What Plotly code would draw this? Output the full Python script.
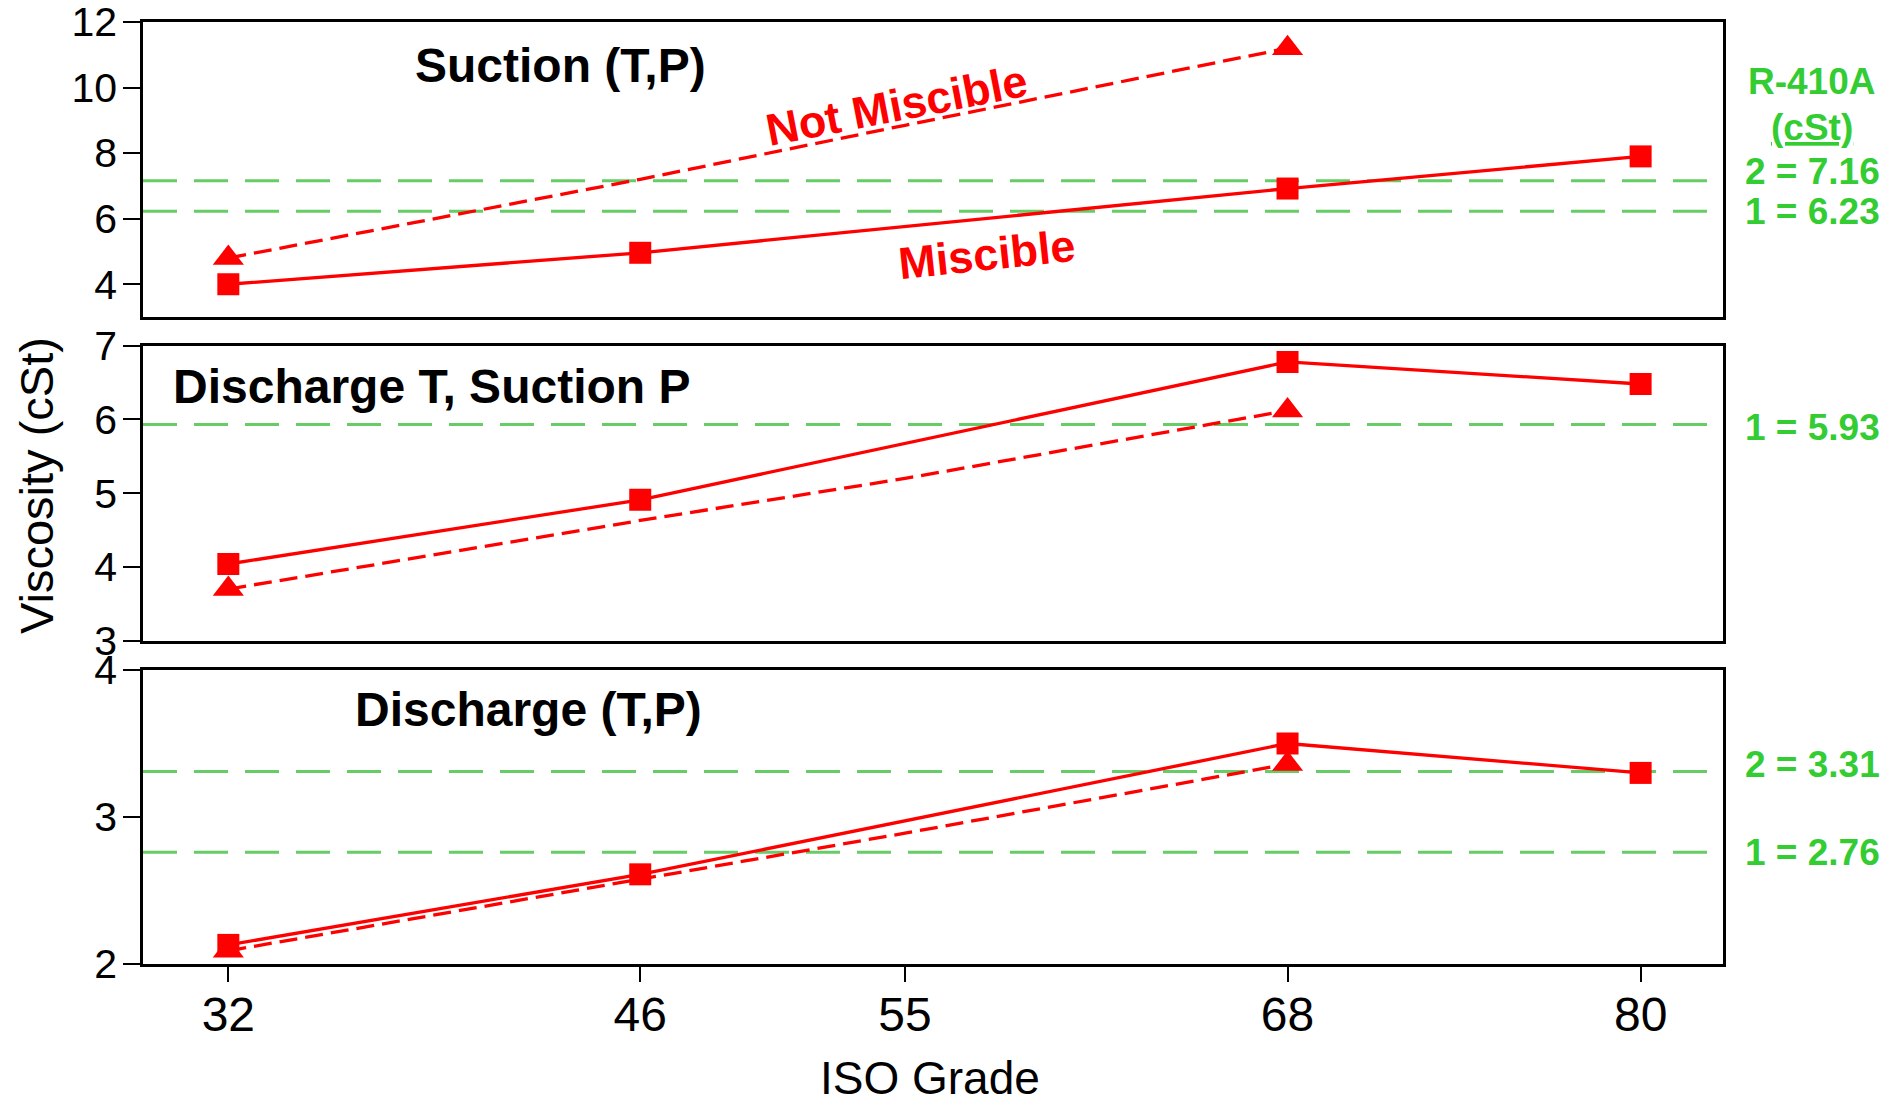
import plotly.graph_objects as go

# ---------------- data ----------------
iso_grades = [32, 46, 55, 68, 80]
x_misc = [32, 46, 68, 80]
x_notmisc = [32, 46, 55, 68]

# Panel 1: Suction (T,P)
suc_misc = [4.0, 4.96, 6.92, 7.9]
suc_notmisc = [4.8, 7.2, 8.85, 11.2]
suc_ref = [7.16, 6.23]

# Panel 2: Discharge T, Suction P
dtsp_misc = [4.04, 4.91, 6.78, 6.48]
dtsp_notmisc = [3.7, 4.63, 5.2, 6.12]
dtsp_ref = [5.93]

# Panel 3: Discharge (T,P)
dis_misc = [2.13, 2.61, 3.5, 3.3]
dis_notmisc = [2.09, 2.58, 2.89, 3.36]
dis_ref = [3.31, 2.76]

panel_titles = ["Suction (T,P)", "Discharge T, Suction P", "Discharge (T,P)"]
ref_labels = [["2 = 7.16", "1 = 6.23"], ["1 = 5.93"], ["2 = 3.31", "1 = 2.76"]]

RED = "#FF0000"
GREEN_LINE = "#66CC66"
GREEN_TXT = "#33CC33"
FONT = "Liberation Sans, Arial, sans-serif"

fig = go.Figure()

panels = [
    (suc_misc, suc_notmisc, suc_ref),
    (dtsp_misc, dtsp_notmisc, dtsp_ref),
    (dis_misc, dis_notmisc, dis_ref),
]
yranges = [[3, 12], [3, 7], [2, 4]]
ytickvals = [[4, 6, 8, 10, 12], [3, 4, 5, 6, 7], [2, 3, 4]]
domains = [[0.6868, 1.0], [0.3432, 0.6564], [0.0, 0.3121]]

for i, (misc, notmisc, refs) in enumerate(panels):
    n = i + 1
    xa = "x" if n == 1 else f"x{n}"
    ya = "y" if n == 1 else f"y{n}"
    msize = [27 if (j == 0 or j == len(x_notmisc) - 1) else 0 for j in range(len(x_notmisc))]
    fig.add_trace(go.Scatter(
        x=x_notmisc, y=notmisc, mode="lines+markers", xaxis=xa, yaxis=ya,
        line=dict(color=RED, width=3.3, dash="18px,8px"),
        marker=dict(symbol="triangle-up", size=msize, color=RED, opacity=1,
                    line=dict(width=0)),
        showlegend=False, hoverinfo="skip"))
    fig.add_trace(go.Scatter(
        x=x_misc, y=misc, mode="lines+markers", xaxis=xa, yaxis=ya,
        line=dict(color=RED, width=3.3),
        marker=dict(symbol="square", size=22, color=RED, opacity=1, line=dict(width=0)),
        showlegend=False, hoverinfo="skip"))
    for r in refs:
        fig.add_shape(type="line", xref=f"{xa} domain", yref=ya,
                      x0=0, x1=0.995, y0=r, y1=r,
                      line=dict(color=GREEN_LINE, width=3, dash="34px,17px"),
                      layer="below")

axis_common = dict(showline=True, linecolor="black", linewidth=2.5, mirror=True,
                   showgrid=False, zeroline=False, automargin=False)

layout = dict(
    width=1899, height=1105,
    margin=dict(l=143, r=176, t=22, b=141, autoexpand=False),
    plot_bgcolor="white", paper_bgcolor="white",
    font=dict(family=FONT, color="black"),
)
for i in range(3):
    n = i + 1
    xkey = "xaxis" if n == 1 else f"xaxis{n}"
    ykey = "yaxis" if n == 1 else f"yaxis{n}"
    xa_anchor = "y" if n == 1 else f"y{n}"
    ya_anchor = "x" if n == 1 else f"x{n}"
    xd = dict(axis_common, range=[29.1, 82.8], anchor=xa_anchor, domain=[0, 1],
              tickvals=iso_grades)
    if n < 3:
        xd.update(showticklabels=False, ticks="", matches="x3")
    else:
        xd.update(ticks="outside", ticklen=15, tickwidth=2, tickcolor="black",
                  ticklabelstandoff=-8, ticklabeloverflow="allow",
                  tickfont=dict(size=48, family=FONT, color="black"))
    layout[xkey] = xd
    layout[ykey] = dict(axis_common, range=yranges[i], domain=domains[i], anchor=ya_anchor,
                        tickvals=ytickvals[i], ticks="outside", ticklen=17, tickwidth=2,
                        tickcolor="black", ticklabeloverflow="allow", ticklabelstandoff=-2,
                        tickfont=dict(size=41, family=FONT, color="black"))
fig.update_layout(**layout)

annotations = []
# panel titles
title_xc = [560, 431, 528]
title_y = [12 - (65 - 22) / 32.78, 7 - (387 - 345.7) / 73.75, 4 - (710 - 670) / 147.15]
for i, t in enumerate(panel_titles):
    n = i + 1
    ya = "y" if n == 1 else f"y{n}"
    annotations.append(dict(text=f"<b>{t}</b>", xref="paper", yref=ya,
                            x=(title_xc[i] - 143) / 1580, y=title_y[i],
                            xanchor="center", yanchor="middle", showarrow=False,
                            font=dict(size=48, family=FONT, color="black")))

# series labels in top panel
annotations.append(dict(text="<b>Not Miscible</b>", xref="paper", yref="y",
                        x=(896 - 143) / 1580, y=12 - (105 - 22) / 32.78,
                        textangle=-11, showarrow=False,
                        font=dict(size=45, family=FONT, color=RED)))
annotations.append(dict(text="<b>Miscible</b>", xref="paper", yref="y",
                        x=(987 - 143) / 1580, y=12 - (254 - 22) / 32.78,
                        textangle=-6, showarrow=False,
                        font=dict(size=45, family=FONT, color=RED)))

# right-side R-410A labels
lab_x = (1812 - 143) / 1580
annotations.append(dict(text="<b>R-410A</b>", xref="paper", yref="paper",
                        x=lab_x, y=(964 - 82) / 942, showarrow=False,
                        xanchor="center", yanchor="middle",
                        font=dict(size=37, family=FONT, color=GREEN_TXT)))
annotations.append(dict(text="<b><u>(cSt)</u></b>", xref="paper", yref="paper",
                        x=lab_x, y=(964 - 128) / 942, showarrow=False,
                        xanchor="center", yanchor="middle",
                        font=dict(size=37, family=FONT, color=GREEN_TXT)))
refs_all = [suc_ref, dtsp_ref, dis_ref]
yshifts = [[9, 0], [-3], [7, 0]]
for i, refs in enumerate(refs_all):
    n = i + 1
    ya = "y" if n == 1 else f"y{n}"
    for j, r in enumerate(refs):
        annotations.append(dict(text=f"<b>{ref_labels[i][j]}</b>", xref="paper", yref=ya,
                                x=lab_x, y=r, yshift=yshifts[i][j], showarrow=False,
                                xanchor="center", yanchor="middle",
                                font=dict(size=37, family=FONT, color=GREEN_TXT)))

# axis titles
annotations.append(dict(text="Viscosity (cSt)", xref="paper", yref="paper",
                        x=(36 - 143) / 1580, y=(964 - 486) / 942, textangle=-90,
                        showarrow=False, xanchor="center", yanchor="middle",
                        font=dict(size=47, family=FONT, color="black")))
annotations.append(dict(text="ISO Grade", xref="paper", yref="paper",
                        x=(930 - 143) / 1580, y=(964 - 1078) / 942,
                        showarrow=False, xanchor="center", yanchor="middle",
                        font=dict(size=46, family=FONT, color="black")))

fig.update_layout(annotations=annotations)
fig.write_html("out.html")
